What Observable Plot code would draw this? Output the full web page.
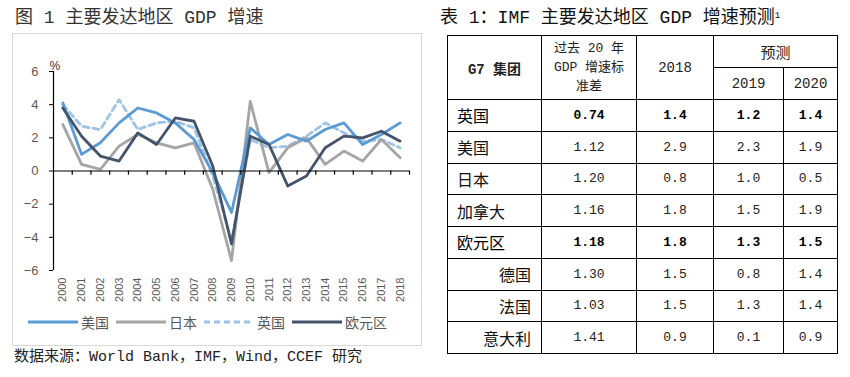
<!DOCTYPE html>
<html><head><meta charset="utf-8">
<script src="https://cdn.jsdelivr.net/npm/d3@7"></script>
<script src="https://cdn.jsdelivr.net/npm/@observablehq/plot@0.6"></script>
<style>
body{margin:0;width:850px;height:377px;background:#fff;position:relative;overflow:hidden;font-family:"Liberation Mono","Noto Sans CJK SC",monospace;color:#222;}
#title1{position:absolute;left:15px;top:6px;font-size:18px;line-height:24px;white-space:pre;color:#333;}
#title2{position:absolute;left:440px;top:6px;font-size:18px;line-height:24px;white-space:pre;color:#111;}
#title2 sup{font-size:9px;vertical-align:top;position:relative;top:-2px;}
#box{position:absolute;left:12px;top:33px;width:408px;height:311px;border:1px solid #d9d9d9;}
#chart{position:absolute;left:0;top:33px;}
#legend{position:absolute;left:28px;top:312px;height:20px;display:flex;align-items:center;font-family:"Noto Sans CJK SC",sans-serif;font-size:14px;color:#595959;white-space:nowrap;}
#legend .it{display:flex;align-items:center;margin-right:7px;}
#legend svg{margin-right:3px;}
#source{position:absolute;left:14px;top:348px;font-size:15px;line-height:20px;white-space:pre;color:#222;}
#tbl{position:absolute;left:447px;top:35px;border-collapse:collapse;table-layout:fixed;}
#tbl td{border:1.5px solid #000;padding:0;text-align:center;vertical-align:middle;font-size:13px;}
#tbl td.lab{font-family:"Noto Sans CJK SC",sans-serif;font-size:16px;text-align:left;padding-left:9px;color:#111;font-weight:normal;}
#tbl td.sub{text-align:right;padding-left:0;padding-right:10px;}
#tbl tr.b td{font-weight:bold;color:#000;}
#tbl tr.b td.lab{font-weight:normal;}
#tbl td.h{font-size:13px;color:#222;}
</style></head><body>
<div id="title1">图 1 主要发达地区 GDP 增速</div>
<div id="box"></div>
<div id="chart"></div>
<div id="legend"></div>
<div id="source">数据来源：World Bank，IMF，Wind，CCEF 研究</div>
<div id="title2">表 1：IMF 主要发达地区 GDP 增速预测<sup>1</sup></div>
<table id="tbl"></table>
<script>
// ---- chart data ----
const years = [2000,2001,2002,2003,2004,2005,2006,2007,2008,2009,2010,2011,2012,2013,2014,2015,2016,2017,2018];
const usGrowth    = [4.1,1.0,1.7,2.9,3.8,3.5,2.9,1.9,-0.1,-2.5,2.6,1.6,2.2,1.8,2.5,2.9,1.6,2.2,2.9];
const japanGrowth = [2.8,0.4,0.1,1.5,2.2,1.7,1.4,1.7,-1.1,-5.4,4.2,-0.1,1.4,2.0,0.4,1.2,0.6,1.9,0.8];
const ukGrowth    = [4.0,2.7,2.5,4.3,2.5,2.9,3.0,2.6,-0.3,-4.2,1.9,1.4,1.5,2.1,2.9,2.3,1.8,1.9,1.4];
const euroGrowth  = [3.8,2.1,0.9,0.6,2.3,1.6,3.2,3.0,0.3,-4.4,2.1,1.6,-0.9,-0.3,1.4,2.1,2.0,2.4,1.8];
const seriesNames = ["美国","日本","英国","欧元区"];
const yTicks = [-6,-4,-2,0,2,4,6];

// ---- table data ----
const tableTitleCols = ["G7 集团","过去 20 年\nGDP 增速标\n准差","2018","预测","2019","2020"];
const regions = ["英国","美国","日本","加拿大","欧元区","德国","法国","意大利"];
const stdev   = ["0.74","1.12","1.20","1.16","1.18","1.30","1.03","1.41"];
const gdp2018 = ["1.4","2.9","0.8","1.8","1.8","1.5","1.5","0.9"];
const fc2019  = ["1.2","2.3","1.0","1.5","1.3","0.8","1.3","0.1"];
const fc2020  = ["1.4","1.9","0.5","1.9","1.5","1.4","1.4","0.9"];
const boldRows = ["英国","欧元区"];
const subRows = ["德国","法国","意大利"];

const styles = [
  {stroke:"#5b9bd5", dash:null},
  {stroke:"#a5a5a5", dash:null},
  {stroke:"#9dc3e6", dash:"6,4"},
  {stroke:"#44546a", dash:null}
];
const allValues = [usGrowth, japanGrowth, ukGrowth, euroGrowth];
const rows = [];
allValues.forEach((vals, s) => years.forEach((yr, i) => rows.push({year: yr, value: vals[i], name: seriesNames[s]})));

const bounds = d3.range(years.length + 1).map(i => years[0] - 0.5 + i);

const lineMarks = [2,1,0,3].map(s => Plot.line(rows.filter(d => d.name === seriesNames[s]), {
  x: "year", y: "value", stroke: styles[s].stroke, strokeWidth: 2.8,
  strokeDasharray: styles[s].dash, strokeLinejoin: "round"
}));

const chart = Plot.plot({
  width: 425, height: 277,
  marginLeft: 53, marginRight: 16, marginTop: 38, marginBottom: 40,
  style: {background: "transparent", fontFamily: "'Liberation Sans', Arial, sans-serif", overflow: "visible", color: "#000"},
  x: {type: "linear", domain: [bounds[0], bounds[bounds.length - 1]], axis: null},
  y: {domain: [-6, 6], axis: null},
  marks: [
    Plot.ruleX([bounds[0]], {y1: -6, y2: 6, stroke: "#000", strokeWidth: 1.2}),
    Plot.axisY({ticks: yTicks, tickSize: 4, tickPadding: 11, stroke: "#000", fill: "#595959", fontSize: 13, label: null}),
    Plot.axisX({ticks: years, anchor: "bottom", tickSize: 0, tickRotate: -90, tickPadding: 7, tickFormat: d => String(d), fill: "#595959", fontSize: 11, label: null}),
    Plot.text(["%"], {frameAnchor: "top-left", dx: -4, dy: -10, fill: "#333", fontSize: 12}),
    ...lineMarks,
    Plot.ruleY([0], {stroke: "#000", strokeWidth: 1.2}),
    Plot.ruleX(bounds.slice(1), {y1: 0, y2: -0.25, stroke: "#000", strokeWidth: 1.2})
  ]
});
document.getElementById("chart").appendChild(chart);

// legend
const legend = document.getElementById("legend");
seriesNames.forEach((n, s) => {
  const it = document.createElement("div");
  it.className = "it";
  const w = 50;
  it.innerHTML = `<svg width="${w}" height="6"><line x1="0" x2="${w}" y1="3" y2="3" stroke="${styles[s].stroke}" stroke-width="3" ${styles[s].dash ? `stroke-dasharray="${styles[s].dash}"` : ""}/></svg><span>${n}</span>`;
  legend.appendChild(it);
});

// table
const tbl = document.getElementById("tbl");
const colW = [94, 95, 77, 70, 54];
const cg = document.createElement("colgroup");
colW.forEach(w => { const c = document.createElement("col"); c.style.width = w + "px"; cg.appendChild(c); });
tbl.appendChild(cg);
const h1 = document.createElement("tr");
h1.innerHTML = `<td rowspan="2" class="h" style="font-weight:bold;font-size:14px;height:31px">${tableTitleCols[0]}</td>` +
  `<td rowspan="2" class="h" style="line-height:19px;font-size:13px">${tableTitleCols[1].split("\n").join("<br>")}</td>` +
  `<td rowspan="2" class="h" style="font-size:14px">${tableTitleCols[2]}</td>` +
  `<td colspan="2" class="h" style="font-size:15px;font-family:'Noto Sans CJK SC',sans-serif;height:31px">${tableTitleCols[3]}</td>`;
tbl.appendChild(h1);
const h2 = document.createElement("tr");
h2.innerHTML = `<td class="h" style="height:31px;font-size:14px">${tableTitleCols[4]}</td><td class="h" style="font-size:14px">${tableTitleCols[5]}</td>`;
tbl.appendChild(h2);
regions.forEach((r, i) => {
  const tr = document.createElement("tr");
  if (boldRows.includes(r)) tr.className = "b";
  const cls = subRows.includes(r) ? "lab sub" : "lab";
  tr.innerHTML = `<td class="${cls}" style="height:30.75px">${r}</td><td>${stdev[i]}</td><td>${gdp2018[i]}</td><td>${fc2019[i]}</td><td>${fc2020[i]}</td>`;
  tbl.appendChild(tr);
});
</script>
</body></html>
